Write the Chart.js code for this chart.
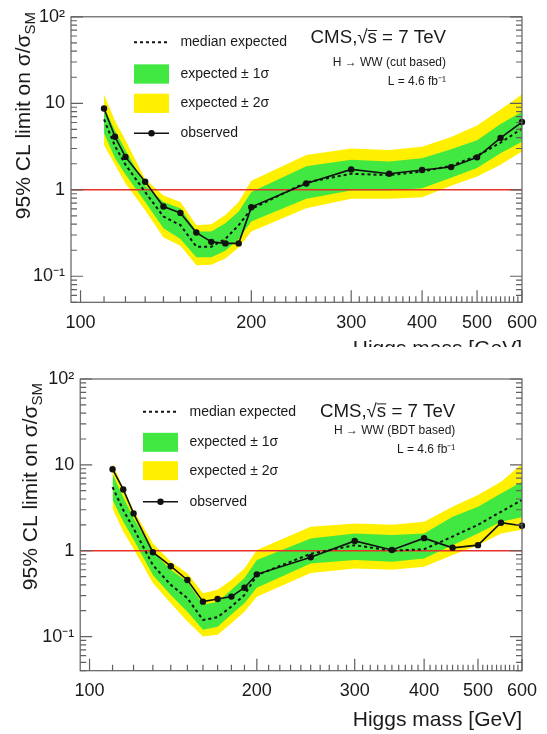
<!DOCTYPE html>
<html>
<head>
<meta charset="utf-8">
<script src="https://cdn.jsdelivr.net/npm/chart.js@4/dist/chart.umd.min.js"></script>
<style>
  html, body { margin: 0; padding: 0; background: #fff; }
  #wrap { position: relative; width: 547px; height: 734px; overflow: hidden; }
  canvas { position: absolute; left: 0; }
</style>
</head>
<body>
<div id="wrap">
  <canvas id="chartCut" style="top:0"></canvas>
  <canvas id="chartBdt" style="top:347px"></canvas>
</div>
<script>
// Masas de Higgs (GeV) donde se calcula el limite
const massPoints = [110, 115, 120, 130, 140, 150, 160, 170, 180, 190, 200, 250, 300, 350, 400, 450, 500, 550, 600];

// Panel superior: analisis "cut based"
const cutObserved = [8.7, 4.1, 2.4, 1.24, 0.64, 0.54, 0.32, 0.25, 0.24, 0.24, 0.63, 1.18, 1.72, 1.53, 1.69, 1.83, 2.37, 3.98, 6.07];
const cutMedian   = [6.5, 3.2, 1.95, 0.94, 0.49, 0.39, 0.22, 0.22, 0.27, 0.39, 0.6, 1.22, 1.53, 1.48, 1.62, 1.9, 2.47, 3.5, 5.1];
const cutPlus1    = [8.9, 4.85, 2.88, 1.11, 0.72, 0.61, 0.33, 0.33, 0.41, 0.56, 0.94, 1.87, 2.22, 2.13, 2.32, 2.94, 3.74, 5.77, 8.0];
const cutMinus1   = [4.5, 2.32, 1.5, 0.72, 0.36, 0.27, 0.166, 0.166, 0.197, 0.27, 0.43, 0.79, 0.98, 0.98, 1.04, 1.38, 1.79, 2.65, 3.59];
const cutPlus2    = [12.6, 6.3, 3.74, 1.32, 0.86, 0.72, 0.39, 0.4, 0.51, 0.72, 1.27, 2.53, 3.0, 2.88, 3.15, 4.08, 5.52, 8.5, 12.6];
const cutMinus2   = [3.3, 1.95, 1.18, 0.58, 0.28, 0.225, 0.134, 0.136, 0.16, 0.215, 0.33, 0.61, 0.79, 0.79, 0.82, 1.11, 1.42, 1.95, 2.77];

// Panel inferior: analisis "BDT based"
const bdtObserved = [8.9, 5.17, 2.72, 0.96, 0.66, 0.456, 0.255, 0.274, 0.292, 0.37, 0.53, 0.84, 1.3, 1.02, 1.4, 1.08, 1.16, 2.12, 1.95];
const bdtMedian   = [5.5, 2.97, 1.82, 0.68, 0.4, 0.28, 0.156, 0.168, 0.224, 0.305, 0.52, 0.92, 1.16, 1.0, 1.04, 1.46, 2.0, 2.84, 3.89];
const bdtPlus1    = [7.8, 4.2, 2.4, 0.97, 0.6, 0.436, 0.234, 0.255, 0.35, 0.48, 0.78, 1.39, 1.59, 1.52, 1.59, 2.48, 3.25, 4.65, 6.35];
const bdtMinus1   = [3.9, 2.17, 1.35, 0.52, 0.305, 0.195, 0.12, 0.13, 0.18, 0.245, 0.37, 0.71, 0.78, 0.745, 0.81, 1.16, 1.59, 2.17, 2.45];
const bdtPlus2    = [10.5, 5.3, 2.95, 1.22, 0.745, 0.546, 0.32, 0.35, 0.456, 0.62, 1.02, 1.9, 2.08, 2.0, 2.17, 3.25, 4.44, 6.34, 10.2];
const bdtMinus2   = [3.1, 1.66, 1.05, 0.42, 0.245, 0.15, 0.1, 0.105, 0.143, 0.195, 0.29, 0.55, 0.62, 0.6, 0.65, 0.89, 1.16, 1.59, 1.75];

// Ejes
const xTickLabels = [100, 200, 300, 400, 500, 600];
const yTickValues = [0.1, 1, 10, 100];
const yTickLabels = ['10\u207B\u00B9', '1', '10', '10\u00B2'];
const xMin = 96.2, xMax = 600;
const smLimit = 1;

// Textos
const legendLabels = ['median expected', 'expected \u00B1 1\u03C3', 'expected \u00B1 2\u03C3', 'observed'];
const xTitle = 'Higgs mass [GeV]';
const lumiLabel = 'L = 4.6 fb\u207B\u00B9';

const FONT = '"Liberation Sans", Arial, Helvetica, sans-serif';
const YELLOW = '#fff000';
const GREEN = '#42e842';
const RED = '#e8302a';
const FRAME = '#606060';
const TXT = '#1a1a1a';

const pts = arr => massPoints.map((m, i) => ({ x: m, y: arr[i] }));

// Plugin que dibuja marco, ticks internos, titulo del eje Y, leyenda y etiquetas CMS
const rootDecor = {
    id: 'rootDecor',
    afterDraw(chart) {
        const cfg = chart.options.plugins.rootDecor;
        const ctx = chart.ctx;
        const { left, right, top, bottom } = chart.chartArea;
        const xs = chart.scales.x, ys = chart.scales.y;
        ctx.save();

        // Marco
        ctx.strokeStyle = FRAME;
        ctx.lineWidth = 1.2;
        ctx.strokeRect(left, top, right - left, bottom - top);

        // Ticks hacia adentro
        ctx.beginPath();
        for (let m = 100; m <= xMax; m += 10) {
            const px = xs.getPixelForValue(m);
            const len = xTickLabels.includes(m) ? 12 : 6;
            ctx.moveTo(px, bottom); ctx.lineTo(px, bottom - len);
        }
        for (let d = -2; d <= 2; d++) {
            for (let k = 1; k <= 9; k++) {
                const v = k * Math.pow(10, d);
                if (v < cfg.yMin * 0.999 || v > 100.001) continue;
                const py = ys.getPixelForValue(v);
                const len = k === 1 ? 12 : 6;
                ctx.moveTo(left, py); ctx.lineTo(left + len, py);
                ctx.moveTo(right, py); ctx.lineTo(right - len, py);
            }
        }
        ctx.stroke();

        // Titulo del eje Y (con subindice SM)
        ctx.save();
        ctx.translate(cfg.yTitle.x, cfg.yTitle.endY);
        ctx.rotate(-Math.PI / 2);
        ctx.fillStyle = TXT;
        ctx.textBaseline = 'alphabetic';
        ctx.textAlign = 'right';
        ctx.font = '15px ' + FONT;
        const subW = ctx.measureText('SM').width;
        ctx.fillText('SM', 0, 5);
        ctx.font = '21px ' + FONT;
        ctx.fillText('95% CL limit on \u03C3/\u03C3', -subW, 0);
        ctx.restore();

        // Leyenda
        const lg = cfg.legend;
        const ds = chart.data.datasets;
        ctx.font = '14px ' + FONT;
        ctx.fillStyle = TXT;
        ctx.textAlign = 'left';
        ctx.textBaseline = 'middle';
        legendLabels.forEach((t, i) => ctx.fillText(t, lg.textX, lg.rows[i]));
        ctx.strokeStyle = ds[5].borderColor;
        ctx.lineWidth = ds[5].borderWidth;
        ctx.setLineDash(ds[5].borderDash);
        ctx.beginPath(); ctx.moveTo(lg.x0, lg.rows[0]); ctx.lineTo(lg.x1, lg.rows[0]); ctx.stroke();
        ctx.setLineDash([]);
        ctx.fillStyle = ds[2].backgroundColor;
        ctx.fillRect(lg.x0, lg.rows[1] - lg.boxH / 2, lg.x1 - lg.x0, lg.boxH);
        ctx.fillStyle = ds[0].backgroundColor;
        ctx.fillRect(lg.x0, lg.rows[2] - lg.boxH / 2, lg.x1 - lg.x0, lg.boxH);
        ctx.strokeStyle = ds[6].borderColor;
        ctx.lineWidth = ds[6].borderWidth;
        ctx.beginPath(); ctx.moveTo(lg.x0, lg.rows[3]); ctx.lineTo(lg.x1, lg.rows[3]); ctx.stroke();
        ctx.fillStyle = ds[6].pointBackgroundColor;
        ctx.beginPath(); ctx.arc((lg.x0 + lg.x1) / 2, lg.rows[3], ds[6].pointRadius, 0, Math.PI * 2); ctx.fill();

        // Etiqueta CMS, sqrt(s) = 7 TeV
        const tg = cfg.tag;
        ctx.fillStyle = TXT;
        ctx.textAlign = 'left';
        ctx.textBaseline = 'middle';
        ctx.font = '18.7px ' + FONT;
        const parts = ['CMS,', '\u221A', 's', ' = 7 TeV'];
        const widths = parts.map(p => ctx.measureText(p).width);
        let x = tg.right - widths.reduce((a, b) => a + b, 0);
        parts.forEach((p, i) => {
            ctx.fillText(p, x, tg.cmsY);
            if (p === 's') {
                ctx.strokeStyle = TXT; ctx.lineWidth = 1;
                ctx.beginPath(); ctx.moveTo(x, tg.cmsY - 7.8); ctx.lineTo(x + widths[i], tg.cmsY - 7.8); ctx.stroke();
            }
            x += widths[i];
        });
        ctx.textAlign = 'right';
        ctx.font = '12px ' + FONT;
        ctx.fillText(cfg.process, tg.right, tg.procY);
        ctx.fillText(lumiLabel, tg.right, tg.lumiY);

        ctx.restore();
    }
};

function makePanel(canvasId, size, frame, yMin, data, decor, titlePadBottom) {
    const canvas = document.getElementById(canvasId);
    canvas.width = 547;
    canvas.height = size;

    const datasets = [
        { data: pts(data.plus2), backgroundColor: YELLOW, borderWidth: 0, pointRadius: 0, fill: '+1', order: 6 },
        { data: pts(data.minus2), backgroundColor: YELLOW, borderWidth: 0, pointRadius: 0, fill: false, order: 6 },
        { data: pts(data.plus1), backgroundColor: GREEN, borderWidth: 0, pointRadius: 0, fill: '+1', order: 5 },
        { data: pts(data.minus1), backgroundColor: GREEN, borderWidth: 0, pointRadius: 0, fill: false, order: 5 },
        { data: [{ x: xMin, y: smLimit }, { x: xMax, y: smLimit }], borderColor: RED, borderWidth: 1.4, pointRadius: 0, fill: false, order: 3 },
        { data: pts(data.median), borderColor: '#111', borderWidth: 2, borderDash: [3, 3], pointRadius: 0, fill: false, order: 2 },
        { data: pts(data.observed), borderColor: '#111', borderWidth: 1.6, pointRadius: 3.2, pointBackgroundColor: '#111',
          pointBorderWidth: 0, fill: false, order: 1, clip: false }
    ];

    return new Chart(canvas.getContext('2d'), {
        type: 'line',
        data: { datasets },
        options: {
            responsive: false,
            animation: false,
            events: [],
            devicePixelRatio: 1,
            layout: { padding: { left: 0, top: frame.top, right: 547 - frame.right, bottom: 0 } },
            elements: { line: { tension: 0 } },
            plugins: {
                legend: { display: false },
                tooltip: { enabled: false },
                rootDecor: Object.assign({ yMin }, decor)
            },
            scales: {
                x: {
                    type: 'logarithmic',
                    min: xMin,
                    max: xMax,
                    grid: { display: false, drawTicks: false },
                    border: { display: false },
                    afterBuildTicks: s => { s.ticks = xTickLabels.map(v => ({ value: v })); },
                    afterFit: s => { s.height = size - frame.bottom; },
                    ticks: {
                        autoSkip: false, maxRotation: 0, padding: 10, color: TXT,
                        font: { family: FONT, size: 18 },
                        callback: v => String(v)
                    },
                    title: {
                        display: true, text: xTitle, align: 'end', color: TXT,
                        font: { family: FONT, size: 21 },
                        padding: { top: 0, bottom: titlePadBottom }
                    }
                },
                y: {
                    type: 'logarithmic',
                    min: yMin,
                    max: 100,
                    grid: { display: false, drawTicks: false },
                    border: { display: false },
                    afterBuildTicks: s => { s.ticks = yTickValues.map(v => ({ value: v })); },
                    afterFit: s => { s.width = frame.left; },
                    ticks: {
                        padding: 6, color: TXT,
                        font: { family: FONT, size: 18 },
                        callback: v => {
                            const i = yTickValues.indexOf(v);
                            return i >= 0 ? yTickLabels[i] : '';
                        }
                    }
                }
            }
        },
        plugins: [rootDecor]
    });
}

makePanel('chartCut', 347, { left: 71, right: 523.4, top: 9.8, bottom: 302.3 }, 0.05,
    { observed: cutObserved, median: cutMedian, plus1: cutPlus1, minus1: cutMinus1, plus2: cutPlus2, minus2: cutMinus2 },
    {
        process: 'H \u2192 WW (cut based)',
        yTitle: { x: 30, endY: 12 },
        legend: { x0: 134, x1: 169, textX: 180.4, rows: [42.3, 74, 103.3, 133.3], boxH: 19.3 },
        tag: { right: 446, cmsY: 38.3, procY: 62.7, lumiY: 81.7 }
    }, -14.6);

makePanel('chartBdt', 387, { left: 80.2, right: 532.8, top: 32, bottom: 323.7 }, 0.04,
    { observed: bdtObserved, median: bdtMedian, plus1: bdtPlus1, minus1: bdtMinus1, plus2: bdtPlus2, minus2: bdtMinus2 },
    {
        process: 'H \u2192 WW (BDT based)',
        yTitle: { x: 37, endY: 36 },
        legend: { x0: 143, x1: 178, textX: 189.5, rows: [64.7, 95.3, 123.7, 154.7], boxH: 19 },
        tag: { right: 455.3, cmsY: 64.7, procY: 84, lumiY: 103 }
    }, 1.4);
</script>
</body>
</html>
